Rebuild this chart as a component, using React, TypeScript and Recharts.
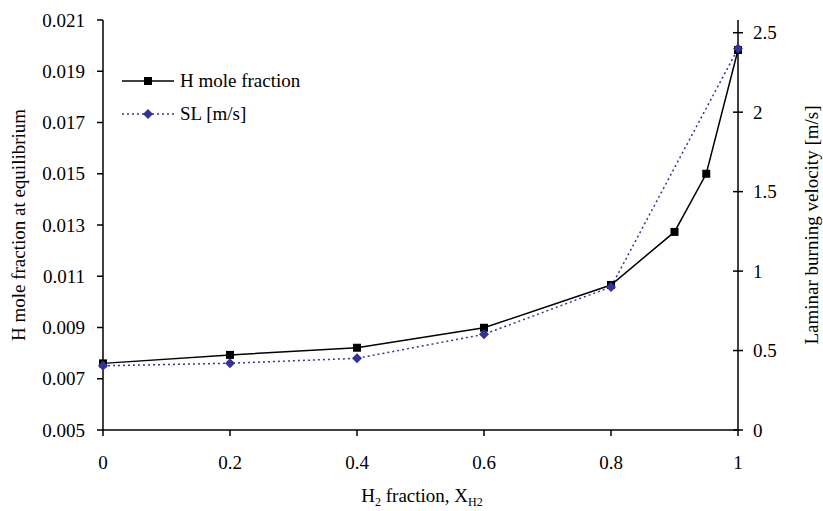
import { LineChart, Line, XAxis, YAxis, Legend } from 'recharts';

const FONT = '"Liberation Serif", "Times New Roman", serif';
const NAVY = '#333399';

// H mole fraction at equilibrium (left axis)
const xH = [0, 0.2, 0.4, 0.6, 0.8, 0.9, 0.95, 1];
const hMole = [0.0076, 0.00793, 0.00821, 0.00899, 0.01066, 0.01273, 0.015, 0.01983];

// laminar burning velocity (right axis)
const xSL = [0, 0.2, 0.4, 0.6, 0.8, 1];
const slVel = [0.404, 0.42, 0.451, 0.602, 0.9, 2.4];

const xTicks = [0, 0.2, 0.4, 0.6, 0.8, 1];
const leftTicks = [0.005, 0.007, 0.009, 0.011, 0.013, 0.015, 0.017, 0.019, 0.021];
const rightTicks = [0, 0.5, 1, 1.5, 2, 2.5];

const hData = xH.map((x, i) => ({ x, h: hMole[i] }));
const slData = xSL.map((x, i) => ({ x, sl: slVel[i] }));

const W = 823;
const H = 511;
const TOP = 20;
const BOTTOM_AXIS = 430;

const Square = (props: any) => {
  const { cx, cy } = props;
  if (cx == null || cy == null) return null;
  return <rect x={cx - 4} y={cy - 4} width={8} height={8} fill="#000" />;
};

const Diamond = (props: any) => {
  const { cx, cy } = props;
  if (cx == null || cy == null) return null;
  return <polygon points={`${cx},${cy - 5} ${cx + 5},${cy} ${cx},${cy + 5} ${cx - 5},${cy}`} fill={NAVY} />;
};

const RightTick = (props: any) => {
  const { x, y, payload } = props;
  const ax = x - 15;
  return (
    <g>
      <line x1={ax - 5} x2={ax + 5} y1={y} y2={y} stroke="#000" strokeWidth={1.5} />
      <text x={x} y={y} dy="0.35em" textAnchor="start" fontFamily={FONT} fontSize={19} fill="#000">
        {payload.value}
      </text>
    </g>
  );
};

const midY = (TOP + BOTTOM_AXIS) / 2;

const Titles = () => (
  <g>
    <text x={422} y={502} textAnchor="middle" fontFamily={FONT} fontSize={19} fill="#000">
      H<tspan dy={4} fontSize={12}>2</tspan>
      <tspan dy={-4}> fraction, X</tspan>
      <tspan dy={4} fontSize={12}>H2</tspan>
    </text>
    <text
      x={18}
      y={midY}
      transform={`rotate(-90, 18, ${midY})`}
      textAnchor="middle"
      dominantBaseline="central"
      fontFamily={FONT}
      fontSize={19}
      fill="#000"
    >
      H mole fraction at equilibrium
    </text>
    <text
      x={811}
      y={midY}
      transform={`rotate(-90, 811, ${midY})`}
      textAnchor="middle"
      dominantBaseline="central"
      fontFamily={FONT}
      fontSize={19}
      fill="#000"
    >
      Laminar burning velocity [m/s]
    </text>
  </g>
);

const LegendBox = () => (
  <div style={{ fontFamily: FONT, fontSize: 19, color: '#000', lineHeight: '33px' }}>
    <div style={{ display: 'flex', alignItems: 'center' }}>
      <svg width={60} height={20}>
        <line x1={2} x2={54} y1={10} y2={10} stroke="#000" strokeWidth={1.5} />
        <rect x={24} y={6} width={8} height={8} fill="#000" />
      </svg>
      <span>H mole fraction</span>
    </div>
    <div style={{ display: 'flex', alignItems: 'center' }}>
      <svg width={60} height={20}>
        <line x1={2} x2={54} y1={10} y2={10} stroke={NAVY} strokeWidth={1.5} strokeDasharray="2 3" />
        <polygon points="28,5 33,10 28,15 23,10" fill={NAVY} />
      </svg>
      <span>SL [m/s]</span>
    </div>
  </div>
);

export default function App() {
  return (
    <div style={{ width: W, height: H, background: '#fff', position: 'relative' }}>
      <style>{'html, body { margin: 0; padding: 0; overflow: hidden; }'}</style>
      <LineChart width={W} height={H} margin={{ top: TOP, right: 0, bottom: 0, left: 0 }}>
        <XAxis
          type="number"
          dataKey="x"
          domain={[0, 1]}
          ticks={xTicks}
          height={H - BOTTOM_AXIS}
          tickSize={6}
          tickMargin={20}
          stroke="#000"
          strokeWidth={1.5}
          tick={{ fill: '#000', fontFamily: FONT, fontSize: 19 }}
          allowDuplicatedCategory={false}
        />
        <YAxis
          yAxisId="left"
          width={103}
          domain={[0.005, 0.021]}
          ticks={leftTicks}
          tickFormatter={(v: number) => v.toFixed(3)}
          tickSize={6}
          tickMargin={12}
          stroke="#000"
          strokeWidth={1.5}
          tick={{ fill: '#000', fontFamily: FONT, fontSize: 19 }}
          allowDataOverflow
        />
        <YAxis
          yAxisId="right"
          orientation="right"
          width={85}
          domain={[0, 2.58]}
          ticks={rightTicks}
          tickSize={5}
          tickMargin={10}
          tickLine={false}
          stroke="#000"
          strokeWidth={1.5}
          tick={<RightTick />}
          allowDataOverflow
        />
        <Legend
          layout="horizontal"
          verticalAlign="middle"
          align="center"
          content={<LegendBox />}
          wrapperStyle={{ left: 120, top: 64, width: 220 }}
        />
        <Line
          yAxisId="left"
          data={hData}
          dataKey="h"
          type="linear"
          stroke="#000"
          strokeWidth={1.5}
          dot={<Square />}
          activeDot={false}
          isAnimationActive={false}
        />
        <Line
          yAxisId="right"
          data={slData}
          dataKey="sl"
          type="linear"
          stroke={NAVY}
          strokeWidth={1.5}
          strokeDasharray="2 3"
          dot={<Diamond />}
          activeDot={false}
          isAnimationActive={false}
        />
        <Titles />
      </LineChart>
    </div>
  );
}
